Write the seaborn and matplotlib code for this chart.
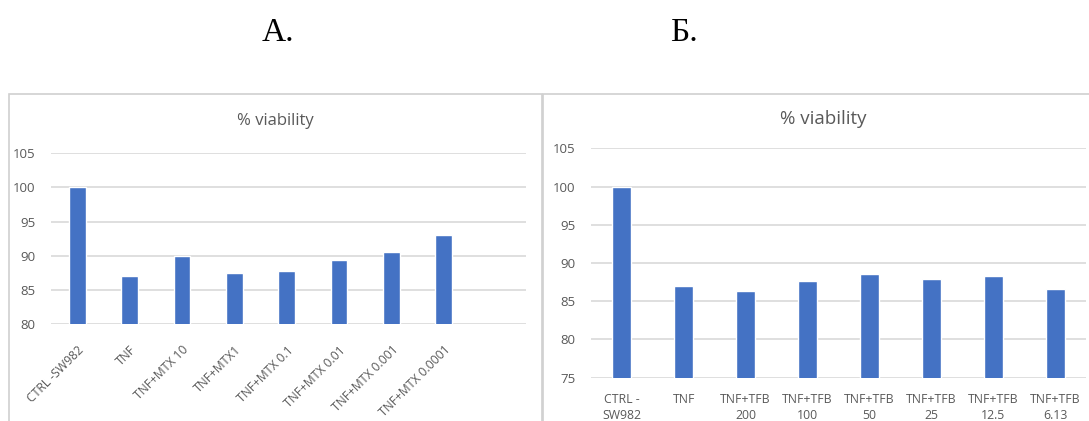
import matplotlib
matplotlib.use("Agg")
import matplotlib.pyplot as plt
import seaborn as sns
import pandas as pd
from matplotlib.patches import Rectangle

# ---- data ----
cats_a = ["CTRL -SW982", "TNF", "TNF+MTX 10", "TNF+MTX1", "TNF+MTX 0.1",
          "TNF+MTX 0.01", "TNF+MTX 0.001", "TNF+MTX 0.0001"]
vals_a = [100.0, 87.0, 90.0, 87.4, 87.7, 89.4, 90.6, 93.0]

cats_b = ["CTRL -\nSW982", "TNF", "TNF+TFB\n200", "TNF+TFB\n100", "TNF+TFB\n50",
          "TNF+TFB\n25", "TNF+TFB\n12.5", "TNF+TFB\n6.13"]
vals_b = [100.0, 87.0, 86.3, 87.6, 88.6, 87.9, 88.3, 86.6]

yticks_a = [80, 85, 90, 95, 100, 105]
yticks_b = [75, 80, 85, 90, 95, 100, 105]
title = "% viability"
panel_labels = ["А.", "Б."]

sns.set_theme(style="white")
plt.rcParams["font.family"] = ["Open Sans", "DejaVu Sans"]

W, H = 1089, 421
fig = plt.figure(figsize=(W / 100, H / 100), dpi=100)

def fx(px):
    return px / W

def fy(py):
    return 1 - py / H

BAR = "#4472C4"
GRID = "#D9D9D9"
TXT = "#595959"

# panel frames
fig.patches.append(Rectangle((fx(9), fy(430)), fx(542) - fx(9), fy(94) - fy(430),
                             transform=fig.transFigure, fill=False,
                             edgecolor="#D0D0D0", linewidth=1.2, zorder=0))
fig.patches.append(Rectangle((fx(543), fy(430)), fx(1095) - fx(543), fy(94) - fy(430),
                             transform=fig.transFigure, fill=False,
                             edgecolor="#D0D0D0", linewidth=1.2, zorder=0))

def style_axis(ax, yticks):
    ax.set_yticks(yticks)
    ax.set_ylim(yticks[0], yticks[-1])
    ax.yaxis.grid(True, color=GRID, linewidth=1.2)
    ax.set_axisbelow(True)
    for s in ax.spines.values():
        s.set_visible(False)
    ax.tick_params(axis="both", length=0, colors=TXT)
    ax.set_xlabel("")
    ax.set_ylabel("")

# Panel A
axA = fig.add_axes([fx(51), fy(324), fx(526) - fx(51), fy(153.3) - fy(324)])
dfa = pd.DataFrame({"cat": cats_a, "val": vals_a})
sns.barplot(data=dfa, x="cat", y="val", color=BAR, saturation=1, width=0.32, ax=axA)
style_axis(axA, yticks_a)
axA.set_xlim(-0.5, 8.57)
axA.tick_params(axis="y", labelsize=9.5, pad=11)
axA.set_xticks(range(len(cats_a)))
axA.set_xticklabels(cats_a, rotation=45, ha="right", rotation_mode="anchor",
                    fontsize=8.7, color=TXT)
axA.tick_params(axis="x", pad=14)
fig.text(fx(275), fy(121), title, ha="center", va="center", fontsize=12, color=TXT)

# Panel B
axB = fig.add_axes([fx(590.7), fy(377.7), fx(1086.4) - fx(590.7), fy(148.3) - fy(377.7)])
dfb = pd.DataFrame({"cat": cats_b, "val": vals_b})
sns.barplot(data=dfb, x="cat", y="val", color=BAR, saturation=1, width=0.31, ax=axB)
style_axis(axB, yticks_b)
axB.set_xlim(-0.5, 7.5)
axB.tick_params(axis="y", labelsize=9.5, pad=11)
axB.set_xticks(range(len(cats_b)))
axB.set_xticklabels(cats_b, fontsize=8.8, color=TXT, linespacing=1.35)
axB.tick_params(axis="x", pad=11)
fig.text(fx(823), fy(119), title, ha="center", va="center", fontsize=13.5, color=TXT)

# panel letters
fig.text(fx(278), fy(33), panel_labels[0], ha="center", va="center", fontsize=24,
         family=["Liberation Serif", "DejaVu Serif"], color="black")
fig.text(fx(684), fy(33), panel_labels[1], ha="center", va="center", fontsize=24,
         family=["Liberation Serif", "DejaVu Serif"], color="black")

fig.savefig("out.png", dpi=100)
